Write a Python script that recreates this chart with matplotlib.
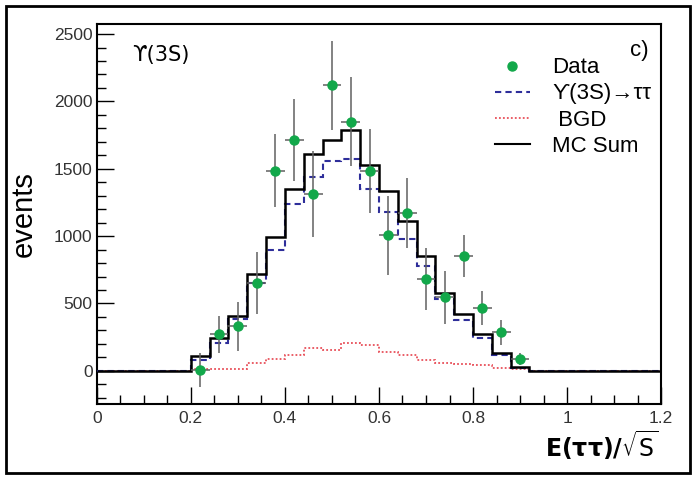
import numpy as np
import matplotlib
matplotlib.use("Agg")
import matplotlib.pyplot as plt
from matplotlib.patches import Rectangle
from matplotlib.lines import Line2D

plt.rcParams['font.family'] = ['Liberation Sans', 'DejaVu Sans']

# ---- data ----
bin_lo, bin_w = 0.20, 0.04
data_x = [0.22, 0.26, 0.30, 0.34, 0.38, 0.42, 0.46, 0.50, 0.54,
          0.58, 0.62, 0.66, 0.70, 0.74, 0.78, 0.82, 0.86, 0.90]
data_y = [5, 270, 330, 655, 1485, 1715, 1310, 2120, 1850,
          1485, 1005, 1170, 680, 545, 850, 465, 285, 85]
data_err = [125, 135, 180, 230, 270, 305, 320, 330, 330,
            310, 295, 260, 230, 195, 155, 125, 95, 45]
mc_sum = [107, 240, 410, 715, 990, 1350, 1610, 1710, 1785,
          1530, 1335, 1110, 850, 575, 420, 275, 135, 30]
signal = [80, 210, 385, 655, 900, 1240, 1440, 1560, 1575,
          1350, 1180, 980, 775, 530, 375, 245, 120, 20]
bgd = [10, 15, 15, 60, 85, 120, 170, 155, 205,
       190, 140, 120, 80, 55, 50, 40, 20, 15]
x_range = (0.0, 1.2)
y_range = (-245, 2575)
x_tick_labels = ['0', '0.2', '0.4', '0.6', '0.8', '1', '1.2']

GREEN = '#12a84a'
BLUE = '#2e2e9a'
RED = '#e8505a'

fig = plt.figure(figsize=(6.96, 4.79), dpi=100)
ax = fig.add_axes([0.139, 0.157, 0.811, 0.793])

n = len(mc_sum)
edges = bin_lo + bin_w * np.arange(n + 1)
full_edges = np.concatenate([[x_range[0]], edges, [x_range[1]]])

def pad(v):
    return np.concatenate([[0], v, [0]])

ax.stairs(pad(bgd), full_edges, color=RED, lw=1.3, ls=(0, (1, 1.2)),
          baseline=None, zorder=2)
ax.stairs(pad(signal), full_edges, color=BLUE, lw=1.5, ls=(0, (3, 2)),
          baseline=None, zorder=3)
ax.stairs(pad(mc_sum), full_edges, color='black', lw=1.8,
          baseline=None, zorder=4)
ax.errorbar(data_x, data_y, yerr=data_err, xerr=bin_w / 2, fmt='o',
            color=GREEN, ms=6.5, ecolor='#606060', elinewidth=1.1,
            capsize=0, zorder=5)

ax.set_xlim(*x_range)
ax.set_ylim(*y_range)
ax.set_xticks(np.arange(0, 1.21, 0.2))
ax.set_xticklabels(x_tick_labels)
ax.set_xticks(np.arange(0, 1.21, 0.05), minor=True)
ax.set_yticks(np.arange(0, 2501, 500))
ax.set_yticks(np.arange(-200, 2575, 100), minor=True)
ax.tick_params(which='both', direction='in', top=False, right=False)
ax.tick_params(which='major', length=12.5, width=1.0, labelsize=12.5,
               labelcolor='#333333', pad=3)
ax.tick_params(which='minor', length=6.5, width=1.0)
ax.tick_params(axis='x', which='major', pad=5)
for s in ax.spines.values():
    s.set_linewidth(1.5)

ax.set_ylabel('events', fontsize=21)
ax.yaxis.set_label_coords(-0.105, 0.5)
ax.set_xlabel(r'$\mathbf{E(\tau\tau)/}\sqrt{\mathrm{S}}$', fontsize=17)
ax.xaxis.set_label_coords(0.895, -0.065)

ax.text(0.062, 0.918, 'ϒ(3S)', transform=ax.transAxes,
        fontsize=15, va='center', ha='left', family=['DejaVu Sans'])
ax.text(0.977, 0.93, 'c)', transform=ax.transAxes, fontsize=16,
        va='center', ha='right')

handles = [
    Line2D([], [], ls='none', marker='o', color=GREEN, ms=6.5),
    Line2D([], [], color=BLUE, lw=1.5, ls=(0, (3, 2))),
    Line2D([], [], color=RED, lw=1.3, ls=(0, (1, 1.2))),
    Line2D([], [], color='black', lw=1.5),
]
labels = ['Data', 'ϒ(3S)→ττ', ' BGD', 'MC Sum']
leg = ax.legend(handles, labels, loc='upper left', bbox_to_anchor=(0.705, 0.912),
                frameon=False, fontsize=16, handlelength=1.6, labelspacing=0.23,
                handletextpad=1.0, borderpad=0, borderaxespad=0)

fig.add_artist(Rectangle((0.008, 0.012), 0.984, 0.976, transform=fig.transFigure,
                         fill=False, lw=2.0, ec='black'))

fig.savefig('out.png', dpi=100)
